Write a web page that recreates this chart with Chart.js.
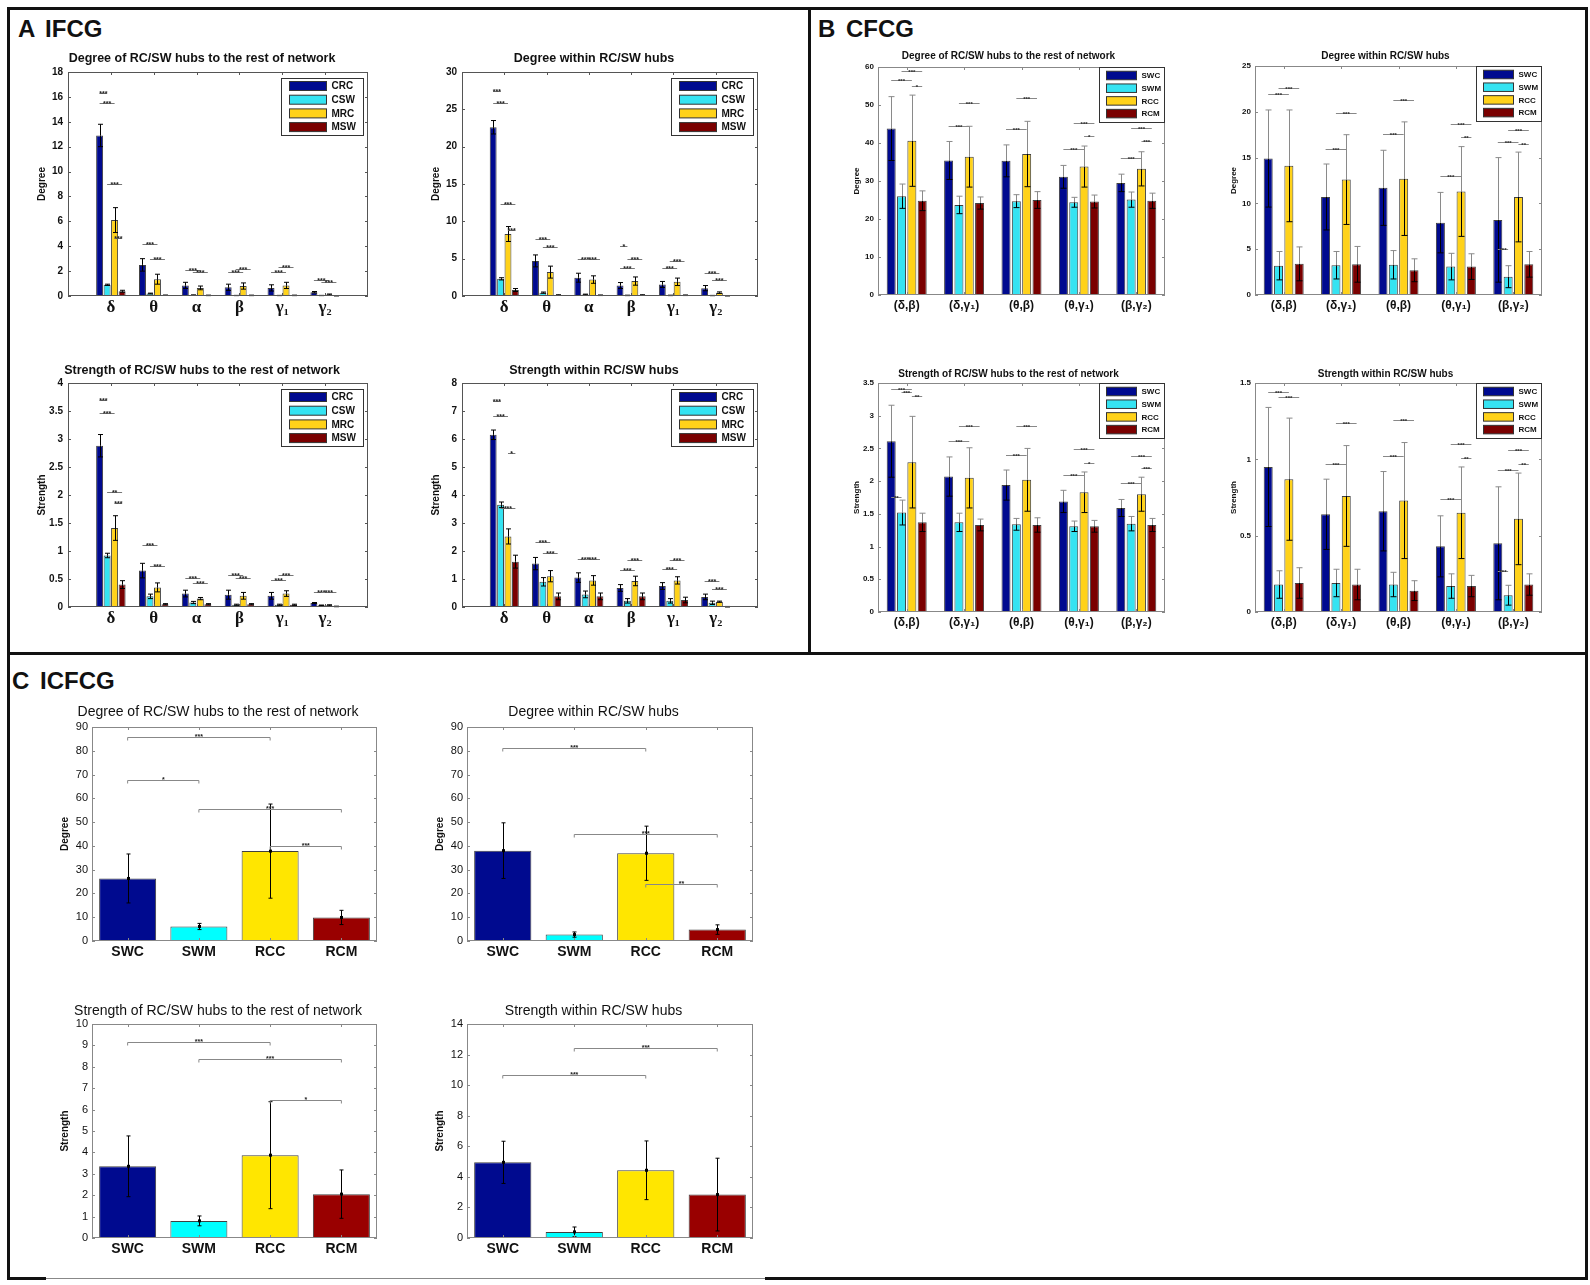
<!DOCTYPE html>
<html>
<head>
<meta charset="utf-8">
<script src="https://cdn.jsdelivr.net/npm/chart.js@4.4.1/dist/chart.umd.min.js"></script>
<style>
  body { margin: 0; width: 1590px; height: 1285px; background: #fff; position: relative; overflow: hidden;
         font-family: 'Liberation Sans', Arial, sans-serif; }
  .box { position: absolute; box-sizing: border-box; border: 3px solid #111; }
  .rule { position: absolute; }
  .plabel { position: absolute; font-weight: bold; font-size: 24px; line-height: 24px; color: #111; word-spacing: 4px; white-space: nowrap; }
  canvas { position: absolute; }
</style>
</head>
<body>
<div class="box" style="left:7px;top:7px;width:804px;height:648px"></div>
<div class="box" style="left:808px;top:7px;width:780px;height:648px"></div>
<div class="box" style="left:7px;top:652px;width:1581px;height:628px;border-bottom:none"></div>
<div class="rule" style="left:7px;top:1277px;width:39px;height:3px;background:#111"></div>
<div class="rule" style="left:46px;top:1278px;width:719px;height:1px;background:#888"></div>
<div class="rule" style="left:765px;top:1277px;width:823px;height:3px;background:#111"></div>
<div class="plabel" style="left:18px;top:17px">A IFCG</div>
<div class="plabel" style="left:818px;top:17px">B CFCG</div>
<div class="plabel" style="left:12px;top:669px">C ICFCG</div>

<script>
const SANS  = "'Liberation Sans', Arial, sans-serif";
const SERIF = "'Liberation Serif', 'DejaVu Serif', serif";
Chart.defaults.font.family = SANS;
Chart.defaults.color = '#111';

// ---------- categories ----------
const bandsA  = ['δ', 'θ', 'α', 'β', 'γ₁', 'γ₂'];
const groupsA = ['CRC', 'CSW', 'MRC', 'MSW'];
const pairsB  = ['(δ,β)', '(δ,γ₁)', '(θ,β)', '(θ,γ₁)', '(β,γ₂)'];
const groupsB = ['SWC', 'SWM', 'RCC', 'RCM'];
const groupsC = ['SWC', 'SWM', 'RCC', 'RCM'];

// ---------- A: IFCG (rows = CRC, CSW, MRC, MSW) ----------
const a1Vals = [[12.9, 2.5, 0.85, 0.7, 0.65, 0.3], [0.9, 0.2, 0.07, 0.04, 0.04, 0.04],
                [6.1, 1.35, 0.65, 0.8, 0.85, 0.12], [0.38, 0.06, 0.05, 0.05, 0.05, 0.02]];
const a1Err  = [[0.9, 0.5, 0.25, 0.25, 0.25, 0.06], [0.05, 0.03, 0.02, 0.01, 0.01, 0.01],
                [1.0, 0.4, 0.15, 0.25, 0.25, 0.04], [0.08, 0.02, 0.02, 0.02, 0.02, 0.01]];
const a1Sig  = [[0,0,1,16.3],[0,0,2,15.5],[0,1,3,9.0],[0,2,3,4.7],[1,0,2,4.2],[1,1,3,3.0],[2,0,2,2.1],[2,1,3,1.95],
                [3,0,2,1.95],[3,1,3,2.2],[4,0,2,1.9],[4,1,3,2.35],[5,0,2,1.3],[5,1,3,1.15]];

const a2Vals = [[22.6, 4.7, 2.45, 1.4, 1.55, 1.05], [2.3, 0.45, 0.2, 0.08, 0.08, 0.06],
                [8.3, 3.2, 2.2, 2.0, 1.9, 0.45], [0.8, 0.12, 0.1, 0.12, 0.1, 0.03]];
const a2Err  = [[0.9, 0.8, 0.6, 0.4, 0.4, 0.35], [0.15, 0.08, 0.05, 0.03, 0.03, 0.02],
                [1.0, 0.8, 0.5, 0.55, 0.5, 0.1], [0.2, 0.05, 0.04, 0.05, 0.04, 0.01]];
const a2Sig  = [[0,0,1,27.5],[0,0,2,25.9],[0,1,3,12.3],[0,2,3,8.9],[1,0,2,7.6],[1,1,3,6.6],[2,0,2,5.0],[2,1,3,4.9],
                [3,0,1,6.7,'*'],[3,0,2,3.7],[3,1,3,4.9],[4,0,2,3.8],[4,1,3,4.7],[5,0,2,3.1],[5,1,3,2.2]];

const a3Vals = [[2.88, 0.65, 0.24, 0.22, 0.2, 0.07], [0.92, 0.19, 0.08, 0.04, 0.04, 0.03],
                [1.41, 0.35, 0.15, 0.2, 0.24, 0.03], [0.4, 0.05, 0.05, 0.05, 0.04, 0.01]];
const a3Err  = [[0.2, 0.13, 0.06, 0.08, 0.06, 0.01], [0.04, 0.04, 0.02, 0.01, 0.01, 0.005],
                [0.22, 0.08, 0.02, 0.06, 0.05, 0.01], [0.07, 0.01, 0.01, 0.01, 0.01, 0.005]];
const a3Sig  = [[0,0,1,3.7],[0,0,2,3.46],[0,1,3,2.06,'**'],[0,2,3,1.85],[1,0,2,1.1],[1,1,3,0.73],[2,0,2,0.52],[2,1,3,0.42],
                [3,0,2,0.57],[3,1,3,0.52],[4,0,2,0.48],[4,1,3,0.58],[5,0,2,0.27],[5,1,3,0.26]];

const a4Vals = [[6.15, 1.55, 1.05, 0.68, 0.75, 0.36], [3.65, 0.9, 0.45, 0.22, 0.22, 0.15],
                [2.52, 1.1, 0.95, 0.93, 0.95, 0.19], [1.62, 0.38, 0.38, 0.38, 0.25, 0.01]];
const a4Err  = [[0.17, 0.22, 0.17, 0.12, 0.12, 0.1], [0.1, 0.15, 0.12, 0.08, 0.08, 0.06],
                [0.27, 0.2, 0.17, 0.17, 0.13, 0.02], [0.23, 0.12, 0.12, 0.12, 0.1, 0.01]];
const a4Sig  = [[0,0,1,7.34],[0,0,2,6.83],[0,2,3,5.49,'*'],[0,1,3,3.52],[1,0,2,2.33],[1,1,3,1.93],[2,0,2,1.73],[2,1,3,1.7],
                [3,0,2,1.31],[3,1,3,1.67],[4,0,2,1.34],[4,1,3,1.67],[5,0,2,0.93],[5,1,3,0.66]];

// ---------- B: CFCG (rows = SWC, SWM, RCC, RCM) ----------
const b1Vals = [[43.8, 35.4, 35.3, 31.1, 29.5], [26.0, 23.7, 24.7, 24.4, 25.1],
                [40.6, 36.4, 37.1, 33.8, 33.2], [24.8, 24.2, 25.0, 24.6, 24.8]];
const b1Err  = [[8.4, 5.0, 4.2, 3.0, 2.3], [3.2, 2.3, 1.7, 1.3, 2.0], [12.0, 8.0, 8.6, 5.4, 4.5], [2.6, 1.6, 2.2, 1.7, 2.0]];
const b1Sig  = [[0,0,2,56.5],[0,1,3,58.9],[0,2,3,55.0,'*'],[1,0,2,44.6],[1,1,3,50.6],[2,0,2,43.7],[2,1,3,51.9],
                [3,0,2,38.4],[3,1,3,45.3],[3,2,3,41.8,'*'],[4,0,2,36.1],[4,1,3,43.9],[4,2,3,40.4]];

const b2Vals = [[14.9, 10.7, 11.7, 7.9, 8.2], [3.2, 3.25, 3.3, 3.1, 2.0],
                [14.1, 12.6, 12.7, 11.3, 10.7], [3.4, 3.35, 2.7, 3.1, 3.35]];
const b2Err  = [[5.3, 3.6, 4.1, 3.3, 6.8], [1.55, 1.5, 1.55, 1.45, 1.2], [6.1, 4.9, 6.2, 4.9, 4.9], [1.85, 1.95, 1.25, 1.4, 1.4]];
const b2Sig  = [[0,0,2,21.9],[0,1,3,22.6],[1,0,2,15.9],[1,1,3,19.9],[2,0,2,17.6],[2,1,3,21.3],[3,0,2,13.0],[3,1,3,18.7],
                [3,2,3,17.2,'**'],[4,0,1,5.0],[4,0,2,16.7],[4,1,3,18.0],[4,2,3,16.5,'**']];

const b3Vals = [[2.61, 2.07, 1.94, 1.69, 1.59], [1.52, 1.37, 1.34, 1.31, 1.35],
                [2.29, 2.05, 2.02, 1.83, 1.80], [1.37, 1.33, 1.33, 1.31, 1.33]];
const b3Err  = [[0.55, 0.3, 0.23, 0.17, 0.13], [0.19, 0.14, 0.09, 0.08, 0.11], [0.7, 0.46, 0.48, 0.31, 0.26], [0.14, 0.09, 0.11, 0.09, 0.1]];
const b3Sig  = [[0,0,2,3.41],[0,1,2,3.36],[0,2,3,3.3,'**'],[0,0,1,1.76,'**'],[1,0,2,2.62],[1,1,3,2.85],[2,0,2,2.4],[2,1,3,2.85],
                [3,0,2,2.1],[3,1,3,2.49],[3,2,3,2.27,'*'],[4,0,2,1.97],[4,1,3,2.39],[4,2,3,2.2]];

const b4Vals = [[0.95, 0.64, 0.66, 0.43, 0.45], [0.18, 0.19, 0.18, 0.17, 0.11],
                [0.87, 0.76, 0.73, 0.65, 0.61], [0.19, 0.18, 0.14, 0.17, 0.18]];
const b4Err  = [[0.39, 0.23, 0.26, 0.2, 0.37], [0.09, 0.09, 0.08, 0.08, 0.065], [0.4, 0.33, 0.38, 0.3, 0.3], [0.1, 0.1, 0.065, 0.07, 0.07]];
const b4Sig  = [[0,0,2,1.44],[0,1,3,1.41],[1,0,2,0.97],[1,1,3,1.24],[2,0,2,1.02],[2,1,3,1.26],[3,0,2,0.74],[3,1,3,1.1],
                [3,2,3,1.01,'**'],[4,0,1,0.27],[4,0,2,0.93],[4,1,3,1.06],[4,2,3,0.97,'**']];

// ---------- C: ICFCG (one value per group) ----------
const c1Vals = [26.3, 6.1, 37.8, 9.9];   const c1Err = [10.3, 1.3, 19.8, 3.0];
const c1Sig  = [[0,2,85.6],[0,1,67.6,'*'],[1,3,55.7],[2,3,39.9]];
const c2Vals = [38.0, 2.7, 36.9, 4.8];   const c2Err = [11.7, 1.1, 11.4, 2.0];
const c2Sig  = [[0,2,81.1],[1,3,45.1],[2,3,24.1,'**']];
const c3Vals = [3.35, 0.8, 3.87, 2.05];  const c3Err = [1.42, 0.23, 2.5, 1.13];
const c3Sig  = [[0,2,9.14],[1,3,8.36],[2,3,6.44,'*']];
const c4Vals = [4.95, 0.4, 4.43, 2.84];  const c4Err = [1.38, 0.32, 1.92, 2.38];
const c4Sig  = [[1,3,12.42],[0,2,10.68]];

// ---------- styles ----------
const COLORS_AB = ['#000A8F', '#35E3F2', '#FFD21A', '#7A0000'];
const COLORS_C  = ['#000A8F', '#00FFFF', '#FFE600', '#990000'];

const STYLE = {
  A: { labels: bandsA, groups: groupsA, colors: COLORS_AB, shift: 1,
       yw: 32, xh: 32, titleSize: 12.5, titleWeight: 'bold',
       tickFont: { size: 10, weight: 'bold' }, tickPad: 5,
       catFont: { family: SERIF, size: 17, weight: 'bold' }, catPad: 1,
       labFont: { size: 10, weight: 'bold' },
       cat: 0.7, bar: 0.93, cap: 2.5, low: '#000', up: '#000',
       frame: '#555', tickLen: 3, sigSize: 7, sigColor: '#777', sigDy: 2, ends: false,
       legend: { right: 5, top: 6, w: 82, h: 57, pad: 8, sw: 37, sh: 9, row0: 7.5, row: 13.7, size: 10 } },
  B: { labels: pairsB, groups: groupsB, colors: COLORS_AB, shift: 0,
       yw: 26, xh: 28, titleSize: 10, titleWeight: 'bold',
       tickFont: { size: 8, weight: 'bold' }, tickPad: 4,
       catFont: { size: 12, weight: 'bold' }, catPad: 3,
       labFont: { size: 8, weight: 'bold' },
       cat: 0.72, bar: 0.87, cap: 3, low: '#000', up: '#8a8a8a',
       frame: '#888', tickLen: 3, sigSize: 6, sigColor: '#888', sigDy: 2, ends: false,
       legend: { right: 1, top: 0, w: 65, h: 55, pad: 7, sw: 30, sh: 8.5, row0: 8, row: 12.7, size: 8 } },
  C: { labels: groupsC, groups: null, colors: COLORS_C, shift: 0,
       yw: 33, xh: 30, titleSize: 14, titleWeight: 'normal',
       tickFont: { size: 11 }, tickPad: 4,
       catFont: { size: 14, weight: 'bold' }, catPad: 3,
       labFont: { size: 10, weight: 'bold' },
       cat: 0.8, bar: 1, cap: 2, low: '#000', up: '#000',
       frame: '#888', tickLen: 3, sigSize: 7, sigColor: '#888', sigDy: 1, ends: true,
       legend: null }
};

const CHARTS = [
  { st: 'A', L: 68,   T: 72,   R: 368,  B: 296,  ty: 59,   title: 'Degree of RC/SW hubs to the rest of network',   ylab: 'Degree',   max: 18,  step: 2,   vals: a1Vals, errs: a1Err, sig: a1Sig },
  { st: 'A', L: 462,  T: 72,   R: 758,  B: 296,  ty: 59,   title: 'Degree within RC/SW hubs',                      ylab: 'Degree',   max: 30,  step: 5,   vals: a2Vals, errs: a2Err, sig: a2Sig },
  { st: 'A', L: 68,   T: 383,  R: 368,  B: 607,  ty: 371,  title: 'Strength of RC/SW hubs to the rest of network', ylab: 'Strength', max: 4,   step: 0.5, vals: a3Vals, errs: a3Err, sig: a3Sig },
  { st: 'A', L: 462,  T: 383,  R: 758,  B: 607,  ty: 371,  title: 'Strength within RC/SW hubs',                    ylab: 'Strength', max: 8,   step: 1,   vals: a4Vals, errs: a4Err, sig: a4Sig },
  { st: 'B', L: 878,  T: 67,   R: 1165, B: 295,  ty: 56,   title: 'Degree of RC/SW hubs to the rest of network',   ylab: 'Degree',   max: 60,  step: 10,  vals: b1Vals, errs: b1Err, sig: b1Sig },
  { st: 'B', L: 1255, T: 66,   R: 1542, B: 295,  ty: 56,   title: 'Degree within RC/SW hubs',                      ylab: 'Degree',   max: 25,  step: 5,   vals: b2Vals, errs: b2Err, sig: b2Sig },
  { st: 'B', L: 878,  T: 383,  R: 1165, B: 612,  ty: 374,  title: 'Strength of RC/SW hubs to the rest of network', ylab: 'Strength', max: 3.5, step: 0.5, vals: b3Vals, errs: b3Err, sig: b3Sig },
  { st: 'B', L: 1255, T: 383,  R: 1542, B: 612,  ty: 374,  title: 'Strength within RC/SW hubs',                    ylab: 'Strength', max: 1.5, step: 0.5, vals: b4Vals, errs: b4Err, sig: b4Sig },
  { st: 'C', L: 92,   T: 727,  R: 377,  B: 941,  ty: 712,  title: 'Degree of RC/SW hubs to the rest of network',   ylab: 'Degree',   max: 90,  step: 10,  vals: [c1Vals], errs: [c1Err], sig: c1Sig },
  { st: 'C', L: 467,  T: 727,  R: 753,  B: 941,  ty: 712,  title: 'Degree within RC/SW hubs',                      ylab: 'Degree',   max: 90,  step: 10,  vals: [c2Vals], errs: [c2Err], sig: c2Sig },
  { st: 'C', L: 92,   T: 1024, R: 377,  B: 1238, ty: 1011, title: 'Strength of RC/SW hubs to the rest of network', ylab: 'Strength', max: 10,  step: 1,   vals: [c3Vals], errs: [c3Err], sig: c3Sig },
  { st: 'C', L: 467,  T: 1024, R: 753,  B: 1238, ty: 1011, title: 'Strength within RC/SW hubs',                    ylab: 'Strength', max: 14,  step: 2,   vals: [c4Vals], errs: [c4Err], sig: c4Sig },
];

function strokeSegs(ctx, color, segs) {
  ctx.strokeStyle = color;
  ctx.beginPath();
  segs.forEach(([x1, y1, x2, y2]) => { ctx.moveTo(x1, y1); ctx.lineTo(x2, y2); });
  ctx.stroke();
}

/** Error bars, significance brackets, axes box and boxed legend */
function overlay(spec, st) {
  return {
    id: 'overlay',
    afterDatasetsDraw(chart) {
      const { ctx, scales: { y } } = chart;
      const sets = chart.data.datasets;
      ctx.save();
      ctx.lineWidth = 1;
      sets.forEach((ds, k) => {
        const meta = chart.getDatasetMeta(k);
        ds.err.forEach((e, i) => {
          const idx = i + st.shift, v = ds.data[idx], bx = Math.round(meta.data[idx].x) + 0.5;
          const pv = y.getPixelForValue(v), lo = y.getPixelForValue(v - e), hi = y.getPixelForValue(v + e);
          strokeSegs(ctx, st.low, [[bx, pv, bx, lo], [bx - st.cap, lo, bx + st.cap, lo]]);
          strokeSegs(ctx, st.up,  [[bx, pv, bx, hi], [bx - st.cap, hi, bx + st.cap, hi]]);
          if (sets.length === 1) { ctx.fillStyle = '#000'; ctx.fillRect(bx - 1.5, pv - 1.5, 3, 3); }
        });
      });

      ctx.font = `bold ${st.sigSize}px ${SANS}`;
      ctx.textAlign = 'center';
      ctx.textBaseline = 'alphabetic';
      spec.sig.forEach(s => {
        let x1, x2, v, lab;
        if (sets.length === 1) {
          const m = chart.getDatasetMeta(0);
          x1 = m.data[s[0]].x; x2 = m.data[s[1]].x; v = s[2]; lab = s[3];
        } else {
          x1 = chart.getDatasetMeta(s[1]).data[s[0] + st.shift].x;
          x2 = chart.getDatasetMeta(s[2]).data[s[0] + st.shift].x;
          v = s[3]; lab = s[4];
        }
        const py = Math.round(y.getPixelForValue(v)) + 0.5;
        const segs = [[x1, py, x2, py]];
        if (st.ends) segs.push([x1, py, x1, py + 3], [x2, py, x2, py + 3]);
        strokeSegs(ctx, st.sigColor, segs);
        ctx.fillStyle = '#222';
        ctx.fillText(lab || '***', (x1 + x2) / 2, py + st.sigDy);
      });
      ctx.restore();
    },
    afterDraw(chart) {
      const { ctx, chartArea: a, scales: { x, y } } = chart;
      ctx.save();
      ctx.lineWidth = 1;
      ctx.strokeStyle = st.frame;
      ctx.strokeRect(Math.round(a.left) + 0.5, Math.round(a.top) + 0.5, Math.round(a.width) - 1, Math.round(a.height) - 1);
      const t = st.tickLen, segs = [];
      y.ticks.forEach(tk => {
        const py = Math.round(y.getPixelForValue(tk.value)) + 0.5;
        segs.push([a.left, py, a.left + t, py], [a.right, py, a.right - t, py]);
      });
      chart.data.labels.forEach((lb, i) => {
        if (!lb) return;
        const px = Math.round(x.getPixelForValue(i)) + 0.5;
        segs.push([px, a.bottom, px, a.bottom - t], [px, a.top, px, a.top + t]);
      });
      strokeSegs(ctx, st.frame, segs);

      const lg = st.legend;
      if (lg) {
        const bx = Math.round(a.right - lg.right - lg.w) + 0.5, by = Math.round(a.top + lg.top) + 0.5;
        ctx.fillStyle = '#fff';
        ctx.fillRect(bx, by, lg.w, lg.h);
        ctx.strokeStyle = '#333';
        ctx.strokeRect(bx, by, lg.w, lg.h);
        ctx.font = `bold ${lg.size}px ${SANS}`;
        ctx.textAlign = 'left';
        ctx.textBaseline = 'middle';
        chart.data.datasets.forEach((ds, k) => {
          const cy = by + lg.row0 + k * lg.row;
          ctx.fillStyle = ds.backgroundColor;
          ctx.fillRect(bx + lg.pad, cy - lg.sh / 2, lg.sw, lg.sh);
          ctx.strokeStyle = '#333';
          ctx.strokeRect(bx + lg.pad, cy - lg.sh / 2, lg.sw, lg.sh);
          ctx.fillStyle = '#111';
          ctx.fillText(ds.label, bx + lg.pad + lg.sw + 5, cy + 0.5);
        });
      }
      ctx.restore();
    }
  };
}

function makeChart(spec) {
  const st = STYLE[spec.st];
  const lh = st.titleSize * 1.2;
  const left = spec.L - st.yw, right = spec.R + st.yw;
  const top = Math.round(spec.ty - 2 - lh / 2), bottom = spec.B + st.xh;
  const padTop = spec.ty - top - lh / 2;
  const padBottom = spec.T - top - padTop - lh;

  const cv = document.createElement('canvas');
  cv.width = right - left; cv.height = bottom - top;
  cv.style.left = left + 'px'; cv.style.top = top + 'px';
  cv.style.width = cv.width + 'px'; cv.style.height = cv.height + 'px';
  document.body.appendChild(cv);

  const pad = arr => st.shift ? [null, ...arr, null] : arr;
  const labels = st.shift ? ['', ...st.labels, ''] : st.labels;
  const datasets = spec.vals.map((vals, k) => ({
    label: st.groups ? st.groups[k] : '',
    data: pad(vals),
    err: spec.errs[k],
    backgroundColor: st.groups ? st.colors[k] : st.colors,
    borderColor: 'rgba(30,30,30,0.85)',
    borderWidth: 1,
    categoryPercentage: st.cat,
    barPercentage: st.bar,
  }));

  new Chart(cv, {
    type: 'bar',
    data: { labels, datasets },
    options: {
      responsive: false, animation: false, devicePixelRatio: 1,
      layout: { padding: { left: 0, right: st.yw, top: 0, bottom: 0 } },
      plugins: {
        legend: { display: false }, tooltip: { enabled: false },
        title: { display: true, text: spec.title, color: '#111',
                 font: { size: st.titleSize, weight: st.titleWeight },
                 padding: { top: padTop, bottom: padBottom } },
      },
      scales: {
        x: {
          offset: !st.shift,
          grid: { display: false, drawTicks: false, tickLength: 0 }, border: { display: false },
          ticks: { font: st.catFont, color: '#111', padding: st.catPad, autoSkip: false, maxRotation: 0, minRotation: 0 },
          afterFit: s => { s.height = st.xh; },
        },
        y: {
          min: 0, max: spec.max,
          grid: { display: false, drawTicks: false, tickLength: 0 }, border: { display: false },
          ticks: { stepSize: spec.step, font: st.tickFont, color: '#111', padding: st.tickPad, autoSkip: false,
                   callback: v => String(+v.toFixed(3)) },
          title: { display: true, text: spec.ylab, color: '#111', font: st.labFont, padding: 0 },
          afterFit: s => { s.width = st.yw; },
        },
      },
    },
    plugins: [overlay(spec, st)],
  });
}

CHARTS.forEach(makeChart);
</script>
</body>
</html>
